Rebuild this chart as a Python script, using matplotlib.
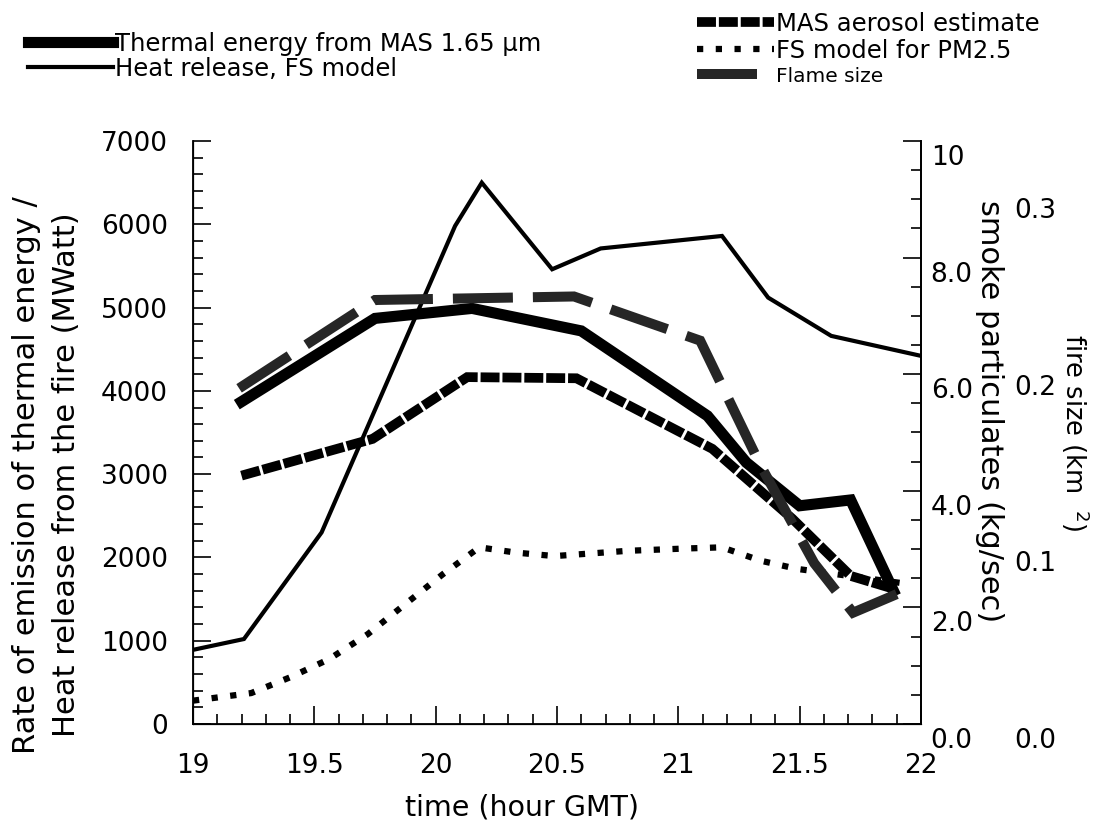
import numpy as np
import matplotlib
matplotlib.use("Agg")
from matplotlib import pyplot as plt
from matplotlib.ticker import MultipleLocator, FixedLocator
from matplotlib.transforms import ScaledTranslation

plt.rcParams['font.family'] = ['DejaVu Sans']

# heat release, FS model (MWatt, left axis)
heat_t = [19.0, 19.21, 19.53, 20.08, 20.19, 20.48, 20.68, 21.18, 21.37, 21.63, 22.0]
heat_v = [890, 1020, 2300, 5980, 6500, 5460, 5710, 5860, 5120, 4660, 4420]

# thermal energy from MAS 1.65 um (MWatt, left axis)
therm_t = [19.2, 19.75, 20.15, 20.6, 21.12, 21.28, 21.5, 21.71, 21.886]
therm_v = [3870, 4870, 4990, 4720, 3700, 3140, 2620, 2690, 1600]

# MAS aerosol estimate (kg/sec, smoke axis)
aer_t = [19.2, 19.74, 20.13, 20.58, 21.14, 21.47, 21.71, 21.886]
aer_v = [4.26, 4.89, 5.95, 5.93, 4.72, 3.52, 2.54, 2.32]

# FS model for PM2.5 (kg/sec, smoke axis)
pm_t = [19.0, 19.24, 19.40, 19.56, 19.72, 19.87, 20.03, 20.18, 20.33, 20.49,
        20.79, 21.03, 21.18, 21.34, 21.49, 21.95]
pm_v = [0.40, 0.53, 0.80, 1.11, 1.54, 2.04, 2.57, 3.03, 2.94, 2.88,
        2.97, 3.01, 3.03, 2.80, 2.66, 2.40]

# flame size (km2, fire size axis)
flame_t = [19.19, 19.75, 20.57, 21.09, 21.34, 21.56, 21.72, 21.9]
flame_v = [0.190, 0.240, 0.242, 0.217, 0.146, 0.091, 0.063, 0.0735]

x_ticks = [19, 19.5, 20, 20.5, 21, 21.5, 22]
x_labels = ['19', '19.5', '20', '20.5', '21', '21.5', '22']
smoke_ticks = [0, 2, 4, 6, 8, 10]
smoke_labels = ['0.0', '2.0', '4.0', '6.0', '8.0', '10']
fire_ticks = [0.0, 0.1, 0.2, 0.3]
fire_labels = ['0.0', '0.1', '0.2', '0.3']

FS = 17.5
TFS = 19

fig = plt.figure(figsize=(11.11, 8.31), dpi=100)
ax = fig.add_axes([0.1737, 0.1288, 0.6553, 0.7015])
ax2 = ax.twinx()
ax3 = ax.twinx()

l_heat, = ax.plot(heat_t, heat_v, color='black', lw=3.0, solid_joinstyle='miter')
l_therm, = ax.plot(therm_t, therm_v, color='black', lw=8, solid_joinstyle='miter')
l_aer, = ax2.plot(aer_t, aer_v, color='black', lw=7, linestyle=(0, (1.95, 0.3)),
                  dash_capstyle='butt', dash_joinstyle='miter')
l_pm, = ax2.plot(pm_t, pm_v, color='black', lw=4.5, linestyle=(0, (1, 2)),
                 dash_capstyle='butt')
l_flame, = ax3.plot(flame_t, flame_v, color='#262626', lw=7.2, linestyle=(0, (6, 2)),
                    dash_capstyle='butt', dash_joinstyle='miter')

ax.set_xlim(19, 22)
ax.set_ylim(0, 7000)
ax2.set_ylim(0, 10)
ax3.set_ylim(0, 0.33)

ax.set_xticks(x_ticks)
ax.set_xticklabels(x_labels)
ax.xaxis.set_minor_locator(MultipleLocator(0.1))
ax.yaxis.set_major_locator(MultipleLocator(1000))
ax.yaxis.set_minor_locator(MultipleLocator(200))
ax.tick_params(which='both', direction='in', labelsize=TFS, width=1.2)
ax.tick_params(which='major', length=13)
ax.tick_params(which='minor', length=7)
ax.tick_params(axis='y', which='major', pad=18)
ax.tick_params(axis='x', which='major', pad=21)

off = ScaledTranslation(0, -14 / 100, fig.dpi_scale_trans)
ax2.yaxis.set_major_locator(FixedLocator(smoke_ticks))
ax2.yaxis.set_minor_locator(MultipleLocator(0.5))
ax2.set_yticklabels(smoke_labels)
ax2.tick_params(which='both', direction='in', labelsize=TFS, width=1.2)
ax2.tick_params(which='major', length=13, pad=7)
ax2.tick_params(which='minor', length=7)
for lbl in ax2.get_yticklabels():
    lbl.set_transform(lbl.get_transform() + off)

ax3.yaxis.set_major_locator(FixedLocator(fire_ticks))
ax3.set_yticklabels(fire_labels)
ax3.tick_params(which='both', length=0, labelsize=TFS, pad=67)
for lbl in ax3.get_yticklabels():
    lbl.set_transform(lbl.get_transform() + off)

for a in (ax, ax2, ax3):
    a.spines['top'].set_visible(False)
for s in ('left', 'bottom', 'right'):
    ax.spines[s].set_linewidth(1.3)
ax2.spines['right'].set_linewidth(1.3)
ax3.spines['right'].set_visible(False)

ax.set_xlabel('time (hour GMT)', fontsize=20.5, va='center')
ax.xaxis.set_label_coords(0.452, -0.144)
ax.set_ylabel('Rate of emission of thermal energy /\nHeat release from the fire (MWatt)',
              fontsize=22, linespacing=1.45, va='center')
ax.yaxis.set_label_coords(-0.201, 0.427)
ax2.set_ylabel('smoke particulates (kg/sec)', fontsize=22, rotation=-90, va='center')
ax2.yaxis.set_label_coords(1.094, 0.537)
ax3.set_ylabel('fire size (km  $^{2}$)', fontsize=18.5, rotation=-90, va='center')
ax3.yaxis.set_label_coords(1.2115, 0.499)

leg1 = fig.legend([l_therm, l_heat],
                  ['Thermal energy from MAS 1.65 \u03bcm', 'Heat release, FS model'],
                  loc='upper left', bbox_to_anchor=(0.025, 0.962), frameon=False,
                  fontsize=FS, handlelength=3.5, handletextpad=0.08,
                  labelspacing=0.05, borderaxespad=0, borderpad=0)
leg2 = fig.legend([l_aer, l_pm, l_flame],
                  ['MAS aerosol estimate', 'FS model for PM2.5', 'Flame size'],
                  loc='upper left', bbox_to_anchor=(0.627, 0.986), frameon=False,
                  fontsize=FS, handlelength=3.2, handletextpad=0.08,
                  labelspacing=0.12, borderaxespad=0, borderpad=0)
leg2.get_texts()[2].set_fontsize(14.5)

fig.savefig('out.png', dpi=100)
